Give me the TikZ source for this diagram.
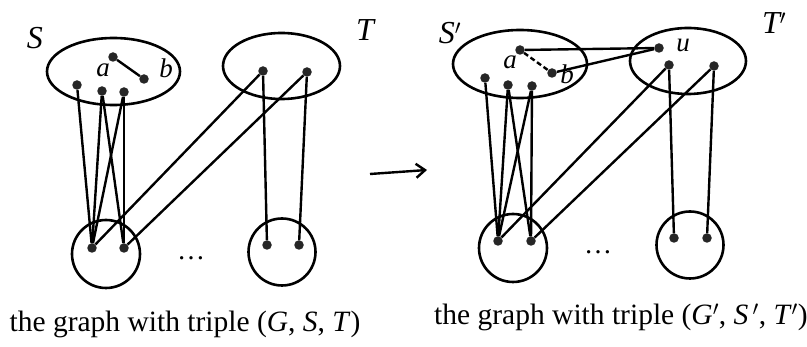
\documentclass[tikz,border=0pt]{standalone}
\usepackage{fontspec}
\setmainfont{Liberation Serif}
\usetikzlibrary{shapes.geometric,arrows.meta}
\begin{document}
\begin{tikzpicture}[x=1pt,y=-1pt,
 vtx/.style={circle,fill=black!85,inner sep=0pt,minimum size=9.5pt},
 grp/.style={draw,ellipse,line width=2.6pt,inner sep=0pt},
 comp/.style={draw,circle,line width=2.6pt,inner sep=0pt},
 conn/.style={line width=2.4pt},
 biglbl/.style={font=\fontsize{32}{36}\selectfont\itshape},
 smllbl/.style={font=\fontsize{27}{30}\selectfont\itshape},
 captxt/.style={font=\fontsize{29.5}{34}\selectfont,anchor=base},
 dotsl/.style={font=\fontsize{28}{32}\selectfont}]
\useasboundingbox (0,0) rectangle (807,347);

% ---------- left panel ----------
\node[grp,minimum width=133pt,minimum height=67pt] (S) at (113.5,71.5) {};
\node[grp,minimum width=117pt,minimum height=66pt] (T) at (281.5,66) {};
\node[comp,minimum size=68pt] (C1) at (106,254) {};
\node[comp,minimum size=67pt] (C2) at (282,252) {};

\node[vtx] (la) at (113,57) {};
\node[vtx] (lb) at (144,79) {};
\node[vtx] (ls1) at (77,85) {};
\node[vtx] (ls2) at (102,91) {};
\node[vtx] (ls3) at (124,92) {};
\node[vtx] (lt1) at (263,71) {};
\node[vtx] (lt2) at (307,72) {};
\node[vtx] (lc11) at (92,248) {};
\node[vtx] (lc12) at (124,248) {};
\node[vtx] (lc21) at (267,245) {};
\node[vtx] (lc22) at (299,245) {};

\node[biglbl] (lSl) at (35,38) {S};
\node[biglbl] (lTl) at (365,30) {T};
\node[smllbl] (lal) at (103,70) {a};
\node[smllbl] (lbll) at (166,68) {b};
\node[dotsl] (ldots) at (191,258) {\dots};

\draw[conn] (la) -- (lb);
\draw[conn] (ls1) -- (lc11);
\draw[conn] (ls2) -- (lc11);
\draw[conn] (ls2) -- (lc12);
\draw[conn] (ls3) -- (lc11);
\draw[conn] (ls3) -- (lc12);
\draw[conn] (lt1) -- (lc11);
\draw[conn] (lt2) -- (lc12);
\draw[conn] (lt1) -- (lc21);
\draw[conn] (lt2) -- (lc22);

\node[captxt] (lcap) at (185,332) {the graph with triple (\textit{G}, \textit{S}, \textit{T})};

% ---------- arrow ----------
\coordinate (arrS) at (370,174);
\coordinate (arrE) at (427,170);
\draw[conn,-{Straight Barb[length=9pt,width=14pt,line width=2.4pt]}] (arrS) -- (arrE);

% ---------- right panel ----------
\node[grp,minimum width=134pt,minimum height=68pt] (Sp) at (520,64) {};
\node[grp,minimum width=116pt,minimum height=66pt] (Tp) at (688,61) {};
\node[comp,minimum size=68pt] (D1) at (513,248) {};
\node[comp,minimum size=67pt] (D2) at (690,245) {};

\node[vtx] (ra) at (520,50) {};
\node[vtx] (rb) at (552,73) {};
\node[vtx] (ru) at (659,48) {};
\node[vtx] (rs1) at (485,78) {};
\node[vtx] (rs2) at (508,85) {};
\node[vtx] (rs3) at (532,86) {};
\node[vtx] (rt1) at (669,65) {};
\node[vtx] (rt2) at (714,66) {};
\node[vtx] (rc11) at (498,241) {};
\node[vtx] (rc12) at (531,241) {};
\node[vtx] (rc21) at (674,238) {};
\node[vtx] (rc22) at (707,238) {};

\node[biglbl] (rSl) at (450,33) {S$'$};
\node[biglbl] (rTl) at (774,23) {T$'$};
\node[smllbl] (ral) at (510,62) {a};
\node[smllbl] (rbl) at (567,74) {b};
\node[smllbl] (rul) at (683,45) {u};
\node[dotsl] (rdots) at (598,252) {\dots};

\draw[conn,dash pattern=on 5pt off 3pt] (ra) -- (rb);
\draw[conn] (ra) -- (ru);
\draw[conn] (rb) -- (ru);
\draw[conn] (rs1) -- (rc11);
\draw[conn] (rs2) -- (rc11);
\draw[conn] (rs2) -- (rc12);
\draw[conn] (rs3) -- (rc11);
\draw[conn] (rs3) -- (rc12);
\draw[conn] (rt1) -- (rc11);
\draw[conn] (rt2) -- (rc12);
\draw[conn] (rt1) -- (rc21);
\draw[conn] (rt2) -- (rc22);

\node[captxt] (rcap) at (621,325) {the graph with triple (\textit{G}$'$, \textit{S}$\,'$, \textit{T}$'$)};
\end{tikzpicture}
\end{document}
